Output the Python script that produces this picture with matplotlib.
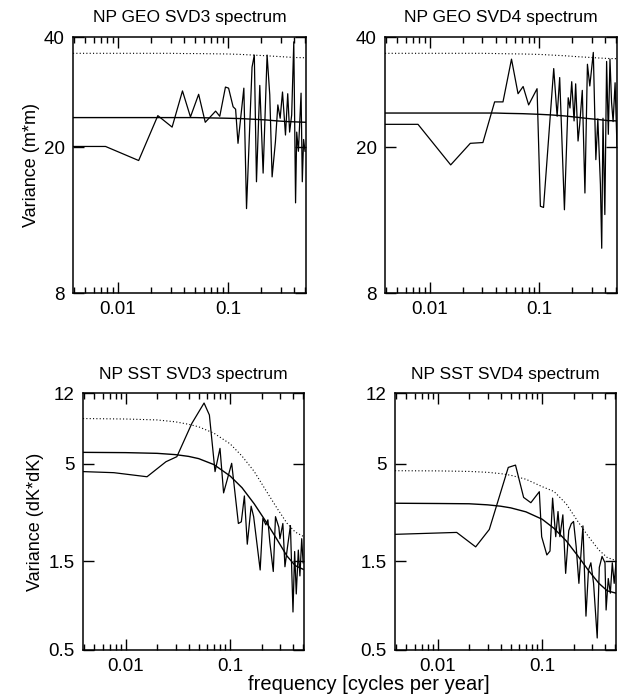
import matplotlib
matplotlib.use("Agg")
import matplotlib.pyplot as plt
from matplotlib.ticker import FixedLocator, NullLocator, LogLocator, NullFormatter

plt.rcParams['font.family'] = ['Liberation Sans', 'DejaVu Sans']

# ---------------- data ----------------
titles = ["NP GEO SVD3 spectrum", "NP GEO SVD4 spectrum",
          "NP SST SVD3 spectrum", "NP SST SVD4 spectrum"]
ylabels = ["Variance (m*m)", "", "Variance (dK*dK)", ""]

geo_yticks = [8, 20, 40]
geo_yticklabels = ["8", "20", "40"]
sst_yticks = [0.5, 1.5, 5, 12]
sst_yticklabels = ["0.5", "1.5", "5", "12"]
xticks = [0.01, 0.1]
xticklabels = ["0.01", "0.1"]

geo3_f = [0.0039, 0.0077, 0.0154, 0.023, 0.031, 0.0385, 0.0455, 0.054, 0.062,
          0.077, 0.084, 0.0946, 0.101, 0.111, 0.117, 0.123, 0.139, 0.147, 0.165,
          0.173, 0.181, 0.194, 0.208, 0.226, 0.239, 0.251, 0.269, 0.283, 0.297,
          0.312, 0.332, 0.348, 0.362, 0.378, 0.395, 0.41, 0.42, 0.435, 0.46,
          0.472, 0.485, 0.5]
geo3_v = [20.1, 20.1, 18.4, 24.4, 22.7, 28.5, 24.2, 27.9, 23.4,
          25.1, 24.3, 29.2, 29.0, 25.8, 25.4, 20.5, 29.0, 13.6, 33.1,
          35.7, 16.1, 29.5, 17.0, 35.7, 27.8, 16.6, 20.7, 26.1, 24.0,
          28.3, 21.6, 28.0, 22.0, 24.5, 38.8, 14.1, 22.0, 19.5, 28.1,
          16.1, 21.0, 19.5]

geo4_f = [0.0039, 0.0078, 0.0155, 0.0234, 0.0305, 0.039, 0.0465, 0.0556, 0.0638,
          0.071, 0.0797, 0.0951, 0.102, 0.109, 0.135, 0.145, 0.153, 0.169, 0.183,
          0.19, 0.197, 0.207, 0.214, 0.225, 0.233, 0.246, 0.26, 0.274, 0.288,
          0.3, 0.31, 0.327, 0.341, 0.36, 0.37, 0.38, 0.395, 0.41, 0.425, 0.44,
          0.455, 0.47, 0.49, 0.51]
geo4_v = [23.1, 23.1, 17.9, 20.5, 20.6, 26.6, 26.6, 34.8, 28.0,
          29.3, 26.1, 28.9, 13.8, 13.7, 32.8, 24.3, 31.0, 13.5, 27.3,
          25.6, 30.2, 23.6, 29.8, 20.8, 23.1, 28.6, 15.0, 33.7, 29.4,
          33.0, 36.3, 18.5, 23.9, 15.8, 10.6, 24.0, 13.1, 34.3, 21.7, 34.8,
          26.5, 23.5, 30.0, 20.0]

sst3_f = [0.0039, 0.0077, 0.016, 0.0243, 0.0309, 0.043, 0.0563, 0.0633, 0.0717,
          0.080, 0.0866, 0.1035, 0.12, 0.128, 0.137, 0.146, 0.159, 0.168, 0.194,
          0.206, 0.22, 0.23, 0.24, 0.259, 0.272, 0.293, 0.30, 0.32, 0.335,
          0.355, 0.378, 0.40, 0.415, 0.43, 0.45, 0.466, 0.485, 0.5]
sst3_v = [4.54, 4.48, 4.26, 5.13, 5.46, 8.24, 10.6, 9.14, 4.54,
          6.05, 3.49, 5.03, 2.39, 2.44, 3.36, 1.85, 2.96, 2.6, 1.345,
          2.55, 2.35, 2.5, 1.9, 1.32, 2.6, 2.28, 1.98, 2.39, 1.4,
          1.8, 2.33, 0.8, 1.69, 1.0, 1.72, 1.25, 1.98, 1.47]

sst4_f = [0.0039, 0.0152, 0.0231, 0.0312, 0.0474, 0.0556, 0.0665, 0.078, 0.094,
          0.099, 0.111, 0.119, 0.126, 0.135, 0.142, 0.148, 0.158, 0.168, 0.18,
          0.19, 0.2, 0.212, 0.225, 0.246, 0.263, 0.278, 0.293, 0.311, 0.337,
          0.353, 0.375, 0.4, 0.41, 0.43, 0.45, 0.47, 0.49, 0.51]
sst4_v = [2.09, 2.14, 1.79, 2.22, 4.78, 4.92, 3.30, 3.09, 3.54,
          2.03, 1.62, 1.7, 3.27, 2.03, 2.77, 2.03, 2.66, 1.29, 2.19,
          2.38, 2.45, 1.79, 1.14, 2.32, 0.76, 1.345, 1.47, 1.14, 0.58,
          1.39, 1.59, 1.47, 0.82, 1.21, 1.01, 1.47, 1.14, 1.47]

# red-noise fit (solid) and confidence level (dotted)
curve_f = [0.0039, 0.01, 0.02, 0.03, 0.04, 0.05, 0.07, 0.1, 0.13, 0.17,
           0.22, 0.28, 0.35, 0.42, 0.51]
geo3_fit = [24.1, 24.1, 24.1, 24.1, 24.1, 24.1, 24.05, 24.0, 23.95, 23.85,
            23.75, 23.6, 23.5, 23.45, 23.4]
geo3_conf = [36.1, 36.1, 36.1, 36.1, 36.05, 36.05, 36.0, 35.95, 35.85, 35.7,
             35.55, 35.4, 35.25, 35.15, 35.1]
geo4_fit = [24.8, 24.8, 24.8, 24.8, 24.8, 24.75, 24.7, 24.6, 24.5, 24.35,
            24.15, 23.95, 23.8, 23.65, 23.6]
geo4_conf = [36.1, 36.1, 36.1, 36.1, 36.05, 36.0, 35.95, 35.85, 35.7, 35.55,
             35.35, 35.2, 35.05, 34.95, 34.9]
sst3_fit = [5.76, 5.74, 5.69, 5.6, 5.48, 5.33, 4.95, 4.3, 3.72, 3.05,
            2.45, 1.97, 1.6, 1.42, 1.35]
sst3_conf = [8.75, 8.7, 8.6, 8.4, 8.15, 7.9, 7.3, 6.4, 5.5, 4.55,
             3.6, 2.9, 2.4, 2.15, 2.03]
sst4_fit = [3.07, 3.06, 3.05, 3.01, 2.96, 2.9, 2.76, 2.52, 2.25, 1.93,
            1.6, 1.33, 1.14, 1.04, 1.01]
sst4_conf = [4.59, 4.58, 4.55, 4.5, 4.43, 4.34, 4.13, 3.77, 3.55, 3.05,
             2.45, 2.02, 1.72, 1.57, 1.51]

xlabel = "frequency [cycles per year]"

# ---------------- figure ----------------
W, H = 622, 695
fig = plt.figure(figsize=(W / 100, H / 100), dpi=100)

def box(l, t, r, b):
    return [l / W, 1 - b / H, (r - l) / W, (b - t) / H]

boxes = [box(73, 37, 306, 293), box(385, 37, 617, 293),
         box(83, 393, 304, 650), box(395, 393, 616, 650)]

panels = [
    (geo3_f, geo3_v, geo3_fit, geo3_conf, (8, 40), geo_yticks, geo_yticklabels),
    (geo4_f, geo4_v, geo4_fit, geo4_conf, (8, 40), geo_yticks, geo_yticklabels),
    (sst3_f, sst3_v, sst3_fit, sst3_conf, (0.5, 12), sst_yticks, sst_yticklabels),
    (sst4_f, sst4_v, sst4_fit, sst4_conf, (0.5, 12), sst_yticks, sst_yticklabels),
]

FS = 12.5
TICK_FS = 13.5
for i, (bx, (f, v, fit, conf, ylim, yt, ytl)) in enumerate(zip(boxes, panels)):
    ax = fig.add_axes(bx)
    ax.set_xscale('log')
    ax.set_yscale('log')
    ax.plot(f, v, color='black', lw=0.9)
    ax.plot(curve_f, fit, color='black', lw=1.0)
    ax.plot(curve_f, conf, color='black', lw=0.8, ls=(0, (1, 2)))
    ax.set_xlim(0.0039, 0.51)
    ax.set_ylim(*ylim)
    ax.xaxis.set_major_locator(FixedLocator(xticks))
    ax.set_xticklabels(xticklabels)
    ax.xaxis.set_minor_locator(LogLocator(base=10, subs=range(2, 10)))
    ax.xaxis.set_minor_formatter(NullFormatter())
    ax.yaxis.set_major_locator(FixedLocator(yt))
    ax.set_yticklabels(ytl)
    ax.yaxis.set_minor_locator(NullLocator())
    ax.tick_params(which='both', direction='in', top=True, right=True,
                   labelsize=TICK_FS, width=1.0, colors='black')
    ax.tick_params(which='major', length=8, pad=6)
    ax.tick_params(which='minor', length=4)
    for s in ax.spines.values():
        s.set_linewidth(1.1)
    ax.set_title(titles[i], fontsize=FS, pad=11 if i < 2 else 10)
    if ylabels[i]:
        ax.set_ylabel(ylabels[i], fontsize=13, labelpad=3)

fig.text(369 / W, 1 - 684 / H, xlabel, fontsize=14.5, ha='center', va='center')

fig.savefig("out.png", dpi=100, facecolor='white')
